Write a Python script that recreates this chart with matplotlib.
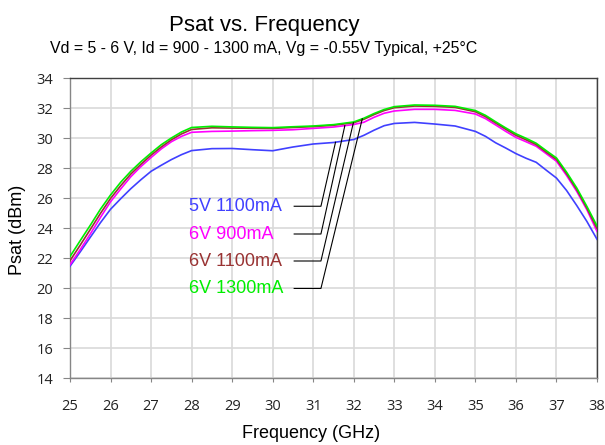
import numpy as np
import matplotlib
matplotlib.use("Agg")
import matplotlib.pyplot as plt

freq = [25, 25.25, 25.5, 25.75, 26, 26.25, 26.5, 26.75, 27, 27.25, 27.5, 27.75, 28, 28.5, 29,
        29.5, 30, 30.5, 31, 31.5, 32, 32.25, 32.5, 32.75, 33, 33.5, 34, 34.5, 35, 35.25, 35.5,
        35.75, 36, 36.25, 36.5, 36.75, 37, 37.25, 37.5, 37.75, 38]
psat_5v_1100 = [21.45, 22.4, 23.38, 24.35, 25.25, 25.95, 26.62, 27.22, 27.78, 28.18, 28.56, 28.89, 29.16, 29.29, 29.3,
                29.22, 29.15, 29.4, 29.6, 29.7, 29.9, 30.18, 30.52, 30.82, 30.97, 31.04, 30.93, 30.8, 30.44, 30.11, 29.68,
                29.33, 28.96, 28.65, 28.38, 27.85, 27.33, 26.5, 25.5, 24.44, 23.25]
psat_6v_900 = [21.55, 22.55, 23.6, 24.7, 25.75, 26.6, 27.42, 28.1, 28.7, 29.27, 29.75, 30.11, 30.38, 30.44, 30.46,
               30.49, 30.51, 30.55, 30.64, 30.73, 30.9, 31.05, 31.38, 31.65, 31.8, 31.91, 31.91, 31.84, 31.6, 31.29, 30.87,
               30.44, 30.04, 29.75, 29.45, 28.95, 28.45, 27.5, 26.44, 25.22, 23.78]
psat_6v_1100 = [21.82, 22.85, 23.9, 24.97, 25.97, 26.82, 27.6, 28.25, 28.86, 29.4, 29.88, 30.27, 30.57, 30.68, 30.66,
                30.65, 30.64, 30.7, 30.76, 30.85, 31.02, 31.25, 31.56, 31.83, 32.02, 32.13, 32.11, 32.04, 31.75, 31.42, 31.0,
                30.58, 30.18, 29.88, 29.56, 29.05, 28.57, 27.62, 26.56, 25.33, 23.98]
psat_6v_1300 = [22.1, 23.15, 24.18, 25.25, 26.2, 27.05, 27.78, 28.42, 29.0, 29.55, 30.0, 30.4, 30.7, 30.78, 30.74,
                30.71, 30.69, 30.75, 30.8, 30.89, 31.07, 31.32, 31.63, 31.9, 32.09, 32.2, 32.18, 32.11, 31.83, 31.51, 31.08,
                30.67, 30.28, 29.98, 29.65, 29.15, 28.67, 27.72, 26.67, 25.44, 24.14]

series_labels = ["5V 1100mA", "6V 900mA", "6V 1100mA", "6V 1300mA"]
series_colors = ["#4040ff", "#ff00ff", "#993333", "#00ee00"]
series_data = [psat_5v_1100, psat_6v_900, psat_6v_1100, psat_6v_1300]

# annotation geometry
label_y = [25.45, 23.6, 21.8, 19.97]
tip_f = [31.55, 31.78, 31.99, 32.21]
elbow_f = 31.19
start_f = 30.53
text_f = 27.935

x_ticks = list(range(25, 39))
y_ticks = list(range(14, 35, 2))

fig = plt.figure(figsize=(6.05, 4.45), dpi=100)
ax = fig.add_axes([70/605, 67/445, 527/605, 300/445])

for i in range(4):
    ax.plot(freq, series_data[i], color=series_colors[i], lw=1.2, zorder=3)

for i in range(4):
    tip_y = float(np.interp(tip_f[i], freq, series_data[i]))
    ax.plot([start_f, elbow_f, tip_f[i]], [label_y[i], label_y[i], tip_y],
            color="black", lw=0.8, zorder=4)
    ax.text(text_f, label_y[i], series_labels[i], color=series_colors[i],
            fontsize=13, family="Liberation Sans", ha="left", va="center")

ax.set_xlim(25, 38)
ax.set_ylim(14, 34)
ax.set_xticks(x_ticks)
ax.set_yticks(y_ticks)
ax.grid(True, color="#d9d9d9", lw=1.2, zorder=0)
ax.set_axisbelow(True)
for lbl in ax.get_xticklabels() + ax.get_yticklabels():
    lbl.set_family("Open Sans")
    lbl.set_fontsize(10.5)
    lbl.set_color("#222222")
ax.tick_params(axis="x", length=3, width=0.8, color="#868686", pad=12)
ax.tick_params(axis="y", length=5, width=0.8, color="#868686", pad=7)
ax.spines["left"].set_color("#868686")
ax.spines["bottom"].set_color("#868686")
ax.spines["top"].set_color("#404040")
ax.spines["right"].set_color("#404040")
for s in ax.spines.values():
    s.set_linewidth(1.0)

fig.text(18/605, 1 - 230/445, "Psat (dBm)", rotation=90, fontsize=13,
         family="Liberation Sans", ha="center", va="center")
fig.text(311/605, 1 - 433/445, "Frequency (GHz)", fontsize=13,
         family="Liberation Sans", ha="center", va="center")
fig.text(264/605, 1 - 26/445, "Psat vs. Frequency", fontsize=16,
         family="Liberation Sans", ha="center", va="center")
fig.text(264/605, 1 - 49/445, "Vd = 5 - 6 V, Id = 900 - 1300 mA, Vg = -0.55V Typical, +25°C",
         fontsize=11.4, family="Liberation Sans", ha="center", va="center")

fig.savefig("out.png", dpi=100)
